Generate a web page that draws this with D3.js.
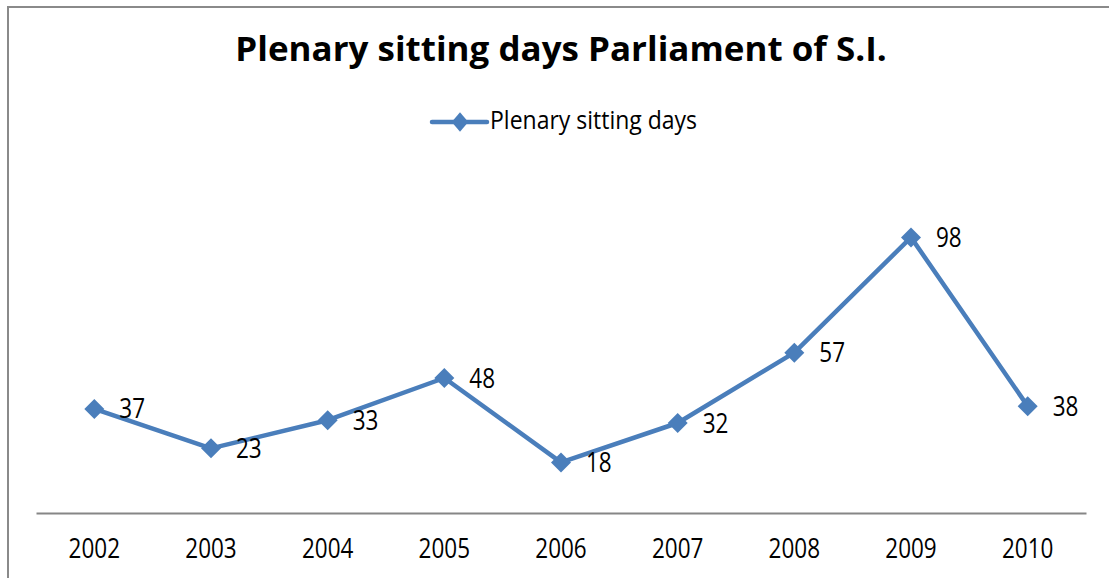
<!DOCTYPE html>
<html>
<head>
<meta charset="utf-8">
<script src="https://cdn.jsdelivr.net/npm/d3@7"></script>
<style>
  body { margin: 0; background: #fff; }
  text { font-family: "Open Sans", "DejaVu Sans", sans-serif; }
</style>
</head>
<body>
<svg id="chart" width="1109" height="578"></svg>
<script>
// chart data
var years = ["2002", "2003", "2004", "2005", "2006", "2007", "2008", "2009", "2010"];
var sittingDays = [37, 23, 33, 48, 18, 32, 57, 98, 38];
var seriesName = "Plenary sitting days";
var chartTitle = "Plenary sitting days Parliament of S.I.";

var blue = "#4a7ebb";
var textStretch = 1.2;   // the original font is tall and narrow
var svg = d3.select("#chart");

// square diamond marker for d3.symbol
var squareDiamond = {
    draw: function(context, size) {
        var r = Math.sqrt(size / 2);
        context.moveTo(0, -r);
        context.lineTo(r, 0);
        context.lineTo(0, r);
        context.lineTo(-r, 0);
        context.closePath();
    }
};

// outer frame of the chart area
svg.append("rect")
    .attr("x", 8)
    .attr("y", 7)
    .attr("width", 1120)
    .attr("height", 600)
    .attr("fill", "#fff")
    .attr("stroke", "#8a8a8a")
    .attr("stroke-width", 2);

// title
svg.append("text")
    .attr("transform", "translate(561,61) scale(1.06,1.02)")
    .attr("text-anchor", "middle")
    .attr("font-weight", "bold")
    .attr("font-size", 33)
    .attr("fill", "#000")
    .text(chartTitle);

// legend
var legend = svg.append("g").attr("transform", "translate(432,122)");
legend.append("line")
    .attr("x1", 0).attr("x2", 55)
    .attr("stroke", blue)
    .attr("stroke-width", 4.5)
    .attr("stroke-linecap", "round");
legend.append("path")
    .attr("d", d3.symbol(squareDiamond, 190)())
    .attr("transform", "translate(28,0) scale(0.85,1)")
    .attr("fill", blue);
legend.append("text")
    .attr("transform", "translate(58,7) scale(1,1.08)")
    .attr("font-size", 23)
    .text(seriesName);

// scales
var x = d3.scaleBand()
    .domain(years)
    .range([36, 1086]);

var y = d3.scaleLinear()
    .domain([0, 120])
    .range([513, 175.5]);

// x axis
var xAxis = svg.append("g")
    .attr("transform", "translate(0,513)")
    .call(d3.axisBottom(x).tickSize(0));
xAxis.select(".domain")
    .attr("stroke", "#868686")
    .attr("stroke-width", 2);
xAxis.selectAll("text")
    .attr("font-size", 22.5)
    .attr("font-family", "'Open Sans', sans-serif")
    .attr("fill", "#000")
    .attr("dy", 0)
    .attr("y", 45 / textStretch)
    .attr("transform", "scale(1," + textStretch + ")");

// the line
var data = years.map(function(d, i) { return { year: d, value: sittingDays[i] }; });
var cx = function(d) { return x(d.year) + x.bandwidth() / 2; };

var line = d3.line()
    .x(cx)
    .y(function(d) { return y(d.value); });

svg.append("path")
    .datum(data)
    .attr("d", line)
    .attr("fill", "none")
    .attr("stroke", blue)
    .attr("stroke-width", 4.5)
    .attr("stroke-linejoin", "round");

// markers
svg.selectAll(".marker")
    .data(data)
    .enter()
    .append("path")
    .attr("class", "marker")
    .attr("d", d3.symbol(squareDiamond, 200)())
    .attr("transform", function(d) {
        return "translate(" + cx(d) + "," + y(d.value) + ")";
    })
    .attr("fill", blue);

// data labels
svg.selectAll(".label")
    .data(data)
    .enter()
    .append("text")
    .attr("class", "label")
    .attr("transform", function(d) {
        return "translate(" + (cx(d) + 25) + "," + (y(d.value) + 9.5) + ") scale(1," + textStretch + ")";
    })
    .attr("font-size", 22.5)
    .attr("fill", "#000")
    .text(function(d) { return d.value; });
</script>
</body>
</html>
